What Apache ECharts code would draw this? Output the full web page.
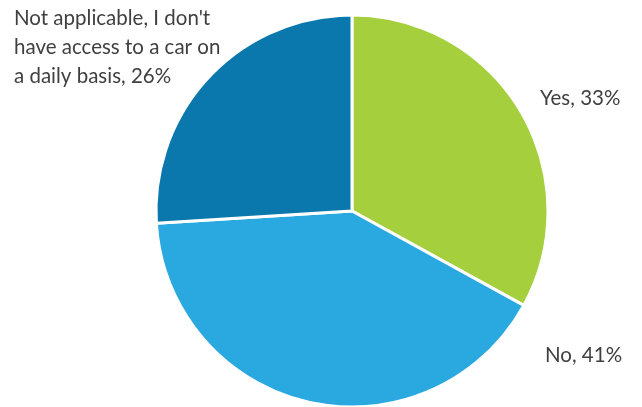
<!DOCTYPE html>
<html><head><meta charset="utf-8">
<script src="https://cdn.jsdelivr.net/npm/echarts@6/dist/echarts.min.js"></script>
<style>html,body{margin:0;padding:0;background:#fff}#c{width:642px;height:407px}</style>
</head><body><div id="c"></div>
<script>
const categories = ["Yes", "No", "Not applicable, I don't have access to a car on a daily basis"];
const labelTexts = ["Yes", "No", "Not applicable, I don't\nhave access to a car on\na daily basis"];
const values = [33, 41, 26];
const colors = ["#A5CF3C", "#2AA8E0", "#0A78AD"];
const labelPos = [
  {x: 540, y: 98, align: 'left', verticalAlign: 'middle'},
  {x: 545, y: 355, align: 'left', verticalAlign: 'middle'},
  {x: 14, y: 4, align: 'left', verticalAlign: 'top'}
];
const chart = echarts.init(document.getElementById('c'));
chart.setOption({
  animation: false,
  series: [{
    type: 'pie',
    center: [352, 211],
    radius: [0, 196],
    startAngle: 90,
    clockwise: true,
    data: categories.map((c, i) => ({name: c, value: values[i], itemStyle: {color: colors[i]}})),
    itemStyle: {borderColor: '#fff', borderWidth: 3},
    label: {
      show: true,
      formatter: p => labelTexts[p.dataIndex] + ', ' + p.value + '%',
      fontFamily: 'Lato',
      fontSize: 20.5,
      lineHeight: 29,
      color: '#404040',
      width: 300,
      overflow: 'none'
    },
    labelLine: {show: false},
    labelLayout: p => Object.assign({}, labelPos[p.dataIndex], {width: 300})
  }]
});
</script></body></html>
